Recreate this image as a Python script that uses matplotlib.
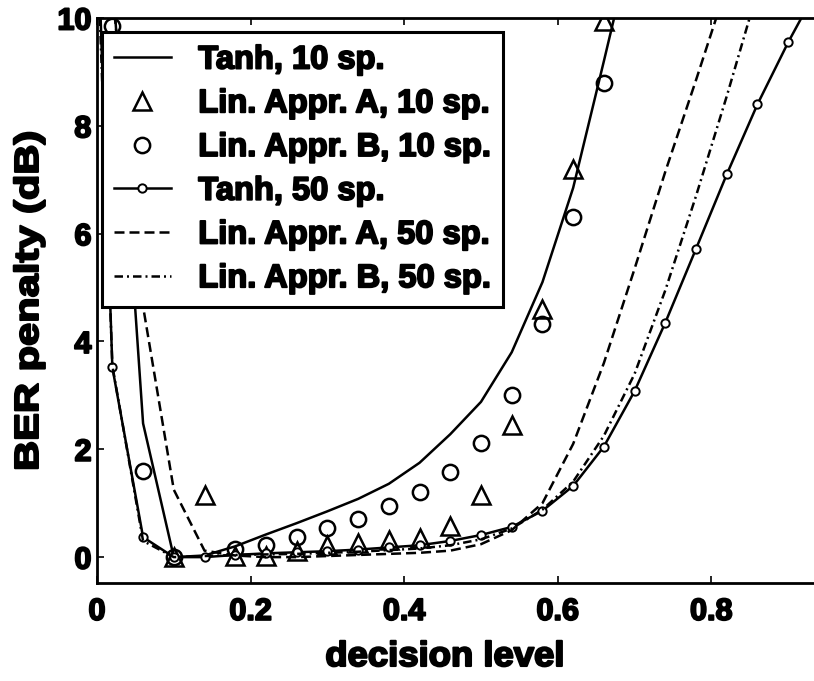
import matplotlib
matplotlib.use('Agg')
import matplotlib.pyplot as plt
import matplotlib.patheffects as pe
from matplotlib.transforms import Affine2D

# ---------------- data ----------------
x_tanh10 = [0.02, 0.06, 0.10, 0.14, 0.18, 0.22, 0.26, 0.30, 0.34, 0.38, 0.42,
            0.46, 0.50, 0.54, 0.58, 0.62, 0.66, 0.70]
y_tanh10 = [10.8, 2.48, 0.0, 0.03, 0.20, 0.42, 0.63, 0.85, 1.08, 1.36, 1.75,
            2.28, 2.88, 3.80, 5.10, 6.85, 9.20, 11.6]

x_linA10 = [0.10, 0.14, 0.18, 0.22, 0.26, 0.30, 0.34, 0.38, 0.42, 0.46, 0.50,
            0.54, 0.58, 0.62, 0.66]
y_linA10 = [0.0, 1.15, 0.03, 0.03, 0.12, 0.22, 0.27, 0.31, 0.36, 0.58, 1.15,
            2.45, 4.60, 7.20, 9.95]

x_linB10 = [0.02, 0.06, 0.10, 0.18, 0.22, 0.26, 0.30, 0.34, 0.38, 0.42, 0.46,
            0.50, 0.54, 0.58, 0.62, 0.66]
y_linB10 = [9.85, 1.59, 0.0, 0.15, 0.22, 0.38, 0.54, 0.70, 0.94, 1.20, 1.57,
            2.11, 3.00, 4.33, 6.31, 8.80]

x_tanh50 = [0.0, 0.02, 0.06, 0.10, 0.14, 0.18, 0.22, 0.26, 0.30, 0.34, 0.38,
            0.42, 0.46, 0.50, 0.54, 0.58, 0.62, 0.66, 0.70, 0.74, 0.78, 0.82,
            0.86, 0.90, 0.94]
y_tanh50 = [12.0, 3.52, 0.37, 0.0, 0.0, 0.04, 0.07, 0.09, 0.11, 0.14, 0.18,
            0.22, 0.30, 0.41, 0.56, 0.86, 1.32, 2.05, 3.08, 4.35, 5.72, 7.10,
            8.40, 9.55, 10.6]

x_linA50 = [0.02, 0.06, 0.10, 0.14, 0.18, 0.22, 0.26, 0.30, 0.34, 0.38, 0.42,
            0.46, 0.50, 0.54, 0.58, 0.62, 0.66, 0.70, 0.74, 0.78, 0.82]
y_linA50 = [10.5, 4.65, 1.25, 0.12, 0.03, 0.0, 0.0, 0.02, 0.04, 0.06, 0.08,
            0.12, 0.24, 0.50, 1.00, 2.10, 3.60, 5.35, 7.15, 8.85, 10.6]

x_linB50 = [0.0, 0.02, 0.06, 0.10, 0.14, 0.18, 0.22, 0.26, 0.30, 0.34, 0.38,
            0.42, 0.46, 0.50, 0.54, 0.58, 0.62, 0.66, 0.70, 0.74, 0.78, 0.82,
            0.86]
y_linB50 = [11.5, 3.55, 0.30, 0.0, 0.02, 0.04, 0.05, 0.06, 0.08, 0.10, 0.13,
            0.16, 0.22, 0.33, 0.53, 0.88, 1.40, 2.25, 3.40, 4.95, 6.70, 8.55,
            10.5]

labels = ['Tanh, 10 sp.', 'Lin. Appr. A, 10 sp.', 'Lin. Appr. B, 10 sp.',
          'Tanh, 50 sp.', 'Lin. Appr. A, 50 sp.', 'Lin. Appr. B, 50 sp.']
x_ticks = [0, 0.2, 0.4, 0.6, 0.8]
x_ticklabels = ['0', '0.2', '0.4', '0.6', '0.8']
y_ticks = [0, 2, 4, 6, 8, 10]
y_ticklabels = ['0', '2', '4', '6', '8', '10']


# ------------- text effect: heavier strokes, optional stretch -------------
class Stretch(pe.AbstractPathEffect):
    def __init__(self, sx=1.0, sy=1.0, stroke=1.0):
        super().__init__()
        self.sx, self.sy, self.stroke = sx, sy, stroke

    def draw_path(self, renderer, gc, tpath, affine, rgbFace=None):
        ext = tpath.get_extents()
        cx = (ext.x0 + ext.x1) / 2
        cy = (ext.y0 + ext.y1) / 2
        t = (Affine2D().translate(-cx, -cy).scale(self.sx, self.sy)
             .translate(cx, cy) + affine)
        gc0 = renderer.new_gc()
        gc0.copy_properties(gc)
        gc0.set_linewidth(renderer.points_to_pixels(self.stroke))
        gc0.set_foreground('black')
        renderer.draw_path(gc0, tpath, t, rgbFace)
        gc0.restore()


# ---------------- style ----------------
plt.rcParams['font.family'] = ['Liberation Sans', 'DejaVu Sans']
plt.rcParams['font.weight'] = 'bold'
bold_fx = [Stretch(1.0, 1.0, 1.0)]

W, H = 814, 681
fig = plt.figure(figsize=(W / 100, H / 100), dpi=100)
fig.patch.set_facecolor('white')
ax = fig.add_axes([97 / W, (H - 583) / H, (W - 97) / W, (583 - 18) / H])

lw = 1.8
ax.plot(x_tanh10, y_tanh10, '-', color='black', lw=lw, label=labels[0])
ax.plot(x_linA10, y_linA10, '^', color='black', ms=13, mfc='none', mew=1.8,
        ls='none', label=labels[1])
ax.plot(x_linB10, y_linB10, 'o', color='black', ms=11, mfc='none', mew=1.8,
        ls='none', label=labels[2])
ax.plot(x_tanh50, y_tanh50, '-o', color='black', lw=lw, ms=6, mfc='white',
        mew=1.4, label=labels[3])
ax.plot(x_linA50, y_linA50, color='black', lw=lw, dashes=(4, 2),
        label=labels[4])
ax.plot(x_linB50, y_linB50, color='black', lw=lw, dashes=(3.4, 1.6, 0.8, 1.6),
        label=labels[5])

ax.set_xlim(0, (W - 97) / 768)
ax.set_ylim(-0.48, 10.0)
ax.set_xticks(x_ticks)
ax.set_xticklabels(x_ticklabels)
ax.set_yticks(y_ticks)
ax.set_yticklabels(y_ticklabels)
ax.tick_params(direction='in', length=5, width=1.2, top=True, right=False,
               labelsize=22)
ax.tick_params(axis='x', pad=10)
ax.tick_params(axis='y', pad=4)
for lab in ax.get_xticklabels() + ax.get_yticklabels():
    lab.set_fontweight('bold')
    lab.set_path_effects(bold_fx)
for s in ['left', 'bottom', 'top']:
    ax.spines[s].set_linewidth(2.0)
ax.spines['right'].set_visible(False)

ax.set_xlabel('decision level', fontsize=25, fontweight='bold',
              path_effects=[Stretch(1.05, 1.0, 1.1)])
ax.xaxis.set_label_coords((445 - 97) / 717, (583 - 640) / 565)
ax.set_ylabel('BER penalty (dB)', fontsize=24, fontweight='bold', labelpad=9,
              path_effects=[Stretch(1.25, 1.0, 1.1)])

leg = ax.legend(loc='upper left', bbox_to_anchor=(0.007, 0.975),
                borderaxespad=0, fontsize=23.5, frameon=True, fancybox=False,
                edgecolor='black', framealpha=1, numpoints=1,
                handlelength=1.72, handletextpad=0.85, labelspacing=0.39,
                borderpad=0.38)
leg.get_frame().set_linewidth(2.2)
for t in leg.get_texts():
    t.set_fontweight('bold')
    t.set_path_effects(bold_fx)

fig.savefig('out.png', dpi=100, facecolor='white')
